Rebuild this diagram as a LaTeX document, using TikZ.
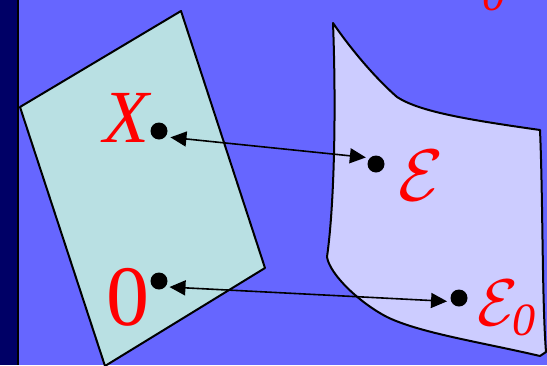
\documentclass[tikz,border=0pt]{standalone}
\usepackage{fix-cm}
\usepackage{fontspec}
\setmainfont{Liberation Serif}
\usetikzlibrary{arrows.meta}
\definecolor{slidebg}{RGB}{102,102,255}
\definecolor{slidebar}{RGB}{0,0,102}
\definecolor{planefill}{RGB}{185,224,227}
\definecolor{blobfill}{RGB}{204,204,255}
\begin{document}
\begin{tikzpicture}[x=1pt,y=-1pt,
  dot/.style={circle,fill=black,inner sep=0pt,minimum size=17pt},
  lab/.style={text=red,inner sep=0pt},
  link/.style={<->,line width=1.6pt,>={Triangle[length=16pt,width=15pt]}},
  sheet/.style={draw=black,line width=2pt,line join=round}]
\fill[slidebg] (0,0) rectangle (547,365);
\useasboundingbox (0,0) rectangle (547,365);
\fill[slidebar] (0,0) rectangle (18,365);
\draw[line width=2pt] (18,0) -- (18,365);
\filldraw[sheet,fill=planefill] (20,107) -- (181,11) -- (265,268) -- (105,366) -- cycle;
\filldraw[sheet,fill=blobfill] (333,23) .. controls (348,45) and (372,75) .. (397,97)
  .. controls (420,112) and (470,120) .. (540,130)
  .. controls (543,200) and (542,300) .. (546,352) -- (540,356)
  .. controls (480,342) and (420,333) .. (387,317)
  .. controls (360,303) and (330,275) .. (327,257)
  .. controls (335,200) and (336,100) .. (333,23) -- cycle;
\node[dot] (dX) at (159,131) {};
\node[dot] (dE) at (376,164) {};
\node[dot] (dO) at (159,281) {};
\node[dot] (dEo) at (459,298) {};
\node[lab,font=\fontsize{75}{80}\selectfont\itshape] (lX) at (126,118) {X};
\node[lab,font=\fontsize{86}{90}\selectfont] (lO) at (128,297) {0};
\node[lab,font=\fontsize{73}{78}\selectfont] (lE) at (421,176) {$\mathcal{E}$};
\node[lab,font=\fontsize{66}{70}\selectfont,anchor=north west] (lEo) at (477,280) {$\mathcal{E}_{\mathit{0}}$};
\node[lab,font=\fontsize{46}{50}\selectfont\itshape] (lTop) at (494,-5) {0};
\draw[link,shorten <=5pt,shorten >=4pt] (dX.-42) -- (dE.135);
\draw[link,shorten <=4pt,shorten >=4pt] (dO.-42) -- (dEo.204);
\end{tikzpicture}
\end{document}
